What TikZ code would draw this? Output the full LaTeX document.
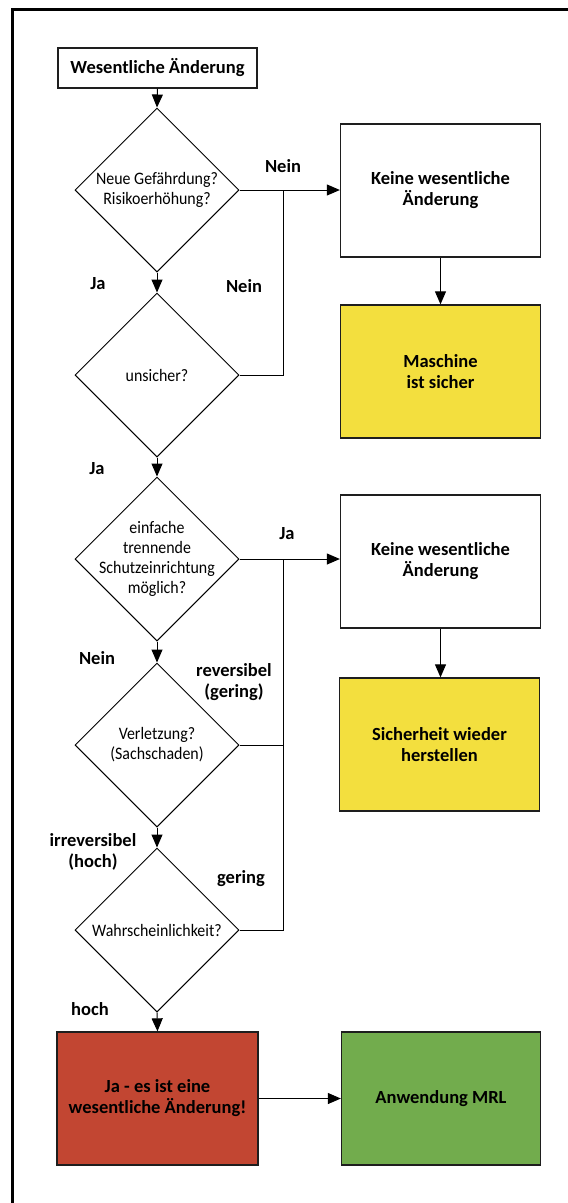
\documentclass[tikz,border=0pt]{standalone}
\usepackage{fontspec}
\setmainfont{Carlito}
\newfontfamily\condfont[FakeStretch=0.91]{Carlito}
\usetikzlibrary{shapes.geometric,arrows.meta}
\definecolor{boxyellow}{RGB}{243,223,62}
\definecolor{boxred}{RGB}{194,70,50}
\definecolor{boxgreen}{RGB}{114,172,77}
\definecolor{edge}{RGB}{30,30,30}
\tikzset{
  box/.style={draw=edge,line width=1.3pt,rectangle,minimum width=200pt,minimum height=133pt,align=center,inner sep=0pt,font=\fontsize{18.5}{21}\selectfont\bfseries},
  dia/.style={draw=black,line width=1pt,diamond,minimum width=164pt,minimum height=164pt,inner sep=0pt},
  dtext/.style={align=center,font=\condfont\fontsize{17.5}{20}\selectfont},
  lbl/.style={align=center,font=\fontsize{18.5}{21}\selectfont\bfseries},
  conn/.style={line width=1pt,draw=black},
  arr/.style={conn,-{Triangle[length=13pt,width=11pt]}}
}
\begin{document}
\begin{tikzpicture}[x=1pt,y=-1pt]
\useasboundingbox (0,0) rectangle (568,1203);
\draw[line width=3pt] (12.5,1210) -- (12.5,9.5) -- (575,9.5);
% nodes
\node[draw=edge,line width=1.3pt,minimum width=199pt,minimum height=40pt,inner sep=0pt,font=\fontsize{18.5}{21}\selectfont\bfseries] (start) at (157.5,68) {Wesentliche Änderung};
\node[dia,label={[dtext]center:Neue Gefährdung?\\Risikoerhöhung?}] (d1) at (157,190) {};
\node[dia,label={[dtext]center:unsicher?}] (d2) at (157,375) {};
\node[dia,label={[dtext]center:einfache\\trennende\\Schutzeinrichtung\\möglich?}] (d3) at (157,559) {};
\node[dia,label={[dtext]center:Verletzung?\\(Sachschaden)}] (d4) at (157,745) {};
\node[dia,label={[dtext]center:Wahrscheinlichkeit?}] (d5) at (157,930) {};
\node[box,fill=white] (k1) at (440.5,190.5) {Keine wesentliche\\Änderung};
\node[box,fill=boxyellow] (y1) at (440.5,371.5) {Maschine\\ist sicher};
\node[box,fill=white] (k2) at (440.5,561.5) {Keine wesentliche\\Änderung};
\node[box,fill=boxyellow] (y2) at (439.5,744.5) {Sicherheit wieder\\herstellen};
\node[box,fill=boxred,minimum width=201pt] (red) at (157.5,1098.5) {Ja - es ist eine\\wesentliche Änderung!};
\node[box,fill=boxgreen,minimum width=199pt] (green) at (441,1098.5) {Anwendung MRL};
\coordinate (j1) at (283,190);
\coordinate (j2) at (283,559);
% labels
\node[lbl] (l1) at (283,166) {Nein};
\node[lbl] (l2) at (98,284) {Ja};
\node[lbl] (l3) at (244,286) {Nein};
\node[lbl] (l4) at (97,469) {Ja};
\node[lbl] (l5) at (287,534) {Ja};
\node[lbl] (l6) at (97,658) {Nein};
\node[lbl] (l7) at (234,682) {reversibel\\(gering)};
\node[lbl] (l8) at (93,852) {irreversibel\\(hoch)};
\node[lbl] (l9) at (241,879) {gering};
\node[lbl] (l10) at (90,1009) {hoch};
% connectors
\draw[arr] (start.south) -- (d1.north);
\draw[arr] (d1.south) -- (d2.north);
\draw[arr] (d2.south) -- (d3.north);
\draw[arr] (d3.south) -- (d4.north);
\draw[arr] (d4.south) -- (d5.north);
\draw[arr] (d5.south) -- (red.north);
\draw[arr] (d1.east) -- (d1.east -| k1.west);
\draw[conn] (d2.east) -- (d2.east -| j1) -- (j1);
\draw[arr] (k1.south) -- (k1.south |- y1.north);
\draw[arr] (d3.east) -- (d3.east -| k2.west);
\draw[conn] (d5.east) -- (d5.east -| j2) -- (j2);
\draw[conn] (d4.east) -- (d4.east -| j2);
\draw[arr] (k2.south) -- (k2.south |- y2.north);
\draw[arr] (red.east) -- (green.west);
\end{tikzpicture}
\end{document}
